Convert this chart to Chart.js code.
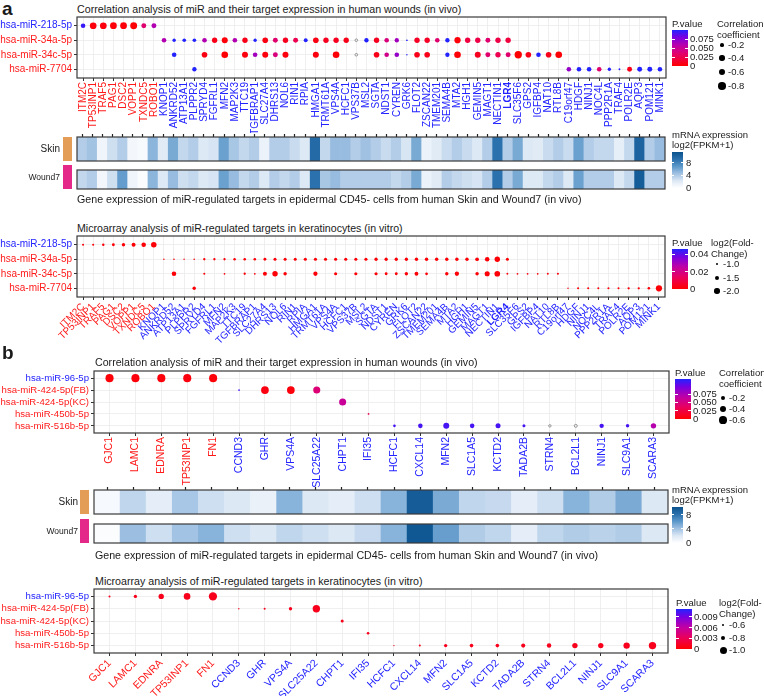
<!DOCTYPE html>
<html>
<head>
<meta charset="utf-8">
<script src="https://cdn.jsdelivr.net/npm/chart.js@4.4.1/dist/chart.umd.min.js"></script>
<style>
  body { margin: 0; background: #fff; font-family: "Liberation Sans", Arial, sans-serif; }
  #wrap { position: relative; width: 764px; height: 696px; overflow: hidden; }
  canvas { position: absolute; left: 0; }
</style>
</head>
<body>
<div id="wrap"></div>
<script>
// ---------- data ----------
const genesA = ['ITM2C','TP53INP1','TRAF5','PAG1','DSC2','VOPP1','TXNDC5','ROBO1','KNOP1','ANKRD52','ATP13A1','PLPPR2','SPRYD4','FGFRL1','MFN2','MAP2K3','TTC19','TGFBRAP1','SLC27A4','DHRS13','NOL6','RIN1','RPIA','HMGA1','TRMT61A','VPS4A','HCFC1','VPS37B','MSL2','SGTA','NDST1','CYREN','GRK6','FLOT2','ZSCAN22','TMEM201','SEMA4B','MTA2','HGH1','GEMIN5','MAGT1','NECTIN1','LGR4','SLC35F6','GPS2','IGFBP4','NAT10','RTL8B','C19orf47','HDGF','NINJ1','NOC4L','PPP2R1A','TRAF4','POLR2E','AQP3','POM121','MINK1'];
const redGenesA = ['ITM2C','TP53INP1','TRAF5','PAG1','DSC2','VOPP1','TXNDC5','ROBO1'];
const mirsA = ['hsa-miR-218-5p','hsa-miR-34a-5p','hsa-miR-34c-5p','hsa-miR-7704'];

const genesB = ['GJC1','LAMC1','EDNRA','TP53INP1','FN1','CCND3','GHR','VPS4A','SLC25A22','CHPT1','IFI35','HCFC1','CXCL14','MFN2','SLC1A5','KCTD2','TADA2B','STRN4','BCL2L1','NINJ1','SLC9A1','SCARA3'];
const redGenesB = ['GJC1','LAMC1','EDNRA','TP53INP1','FN1'];
const mirsB = ['hsa-miR-96-5p','hsa-miR-424-5p(FB)','hsa-miR-424-5p(KC)','hsa-miR-450b-5p','hsa-miR-516b-5p'];
const blueMirs = ['hsa-miR-218-5p','hsa-miR-96-5p'];

// correlation analysis, panel a: [gene, correlation coefficient, P.value]
const corrA_218 = [['ITM2C',-0.3,0.095],['TP53INP1',-0.63,0.004],['TRAF5',-0.63,0.004],['PAG1',-0.65,0.003],['DSC2',-0.65,0.003],['VOPP1',-0.68,0.002],['TXNDC5',-0.35,0.035],['ROBO1',-0.35,0.06]];
const corrA_34a = [['KNOP1',-0.3,0.06],['ANKRD52',-0.16,0.1],['ATP13A1',-0.19,0.1],['PLPPR2',-0.19,0.1],['SPRYD4',-0.3,0.06],['FGFRL1',-0.41,0.008],['MFN2',-0.51,0.003],['MAP2K3',-0.3,0.06],['TTC19',-0.41,0.008],['TGFBRAP1',-0.16,0.1],['SLC27A4',-0.45,0.006],['DHRS13',-0.35,0.035],['NOL6',-0.41,0.01],['RIN1',-0.35,0.025],['RPIA',-0.22,0.1],['HMGA1',-0.45,0.006],['TRMT61A',-0.41,0.01],['VPS4A',-0.41,0.01],['HCFC1',-0.41,0.008],['VPS37B',-0.1,null],['MSL2',-0.27,0.1],['SGTA',-0.41,0.01],['NDST1',-0.3,0.04],['CYREN',-0.27,0.065],['GRK6',-0.04,0.1],['FLOT2',-0.41,0.012],['ZSCAN22',-0.41,0.012],['TMEM201',-0.3,0.035],['SEMA4B',-0.27,0.1],['MTA2',-0.55,0.003],['HGH1',-0.41,0.02],['GEMIN5',-0.41,0.022],['MAGT1',-0.35,0.035],['NECTIN1',-0.41,0.022],['LGR4',-0.41,0.02]];
const corrA_34c = [['ANKRD52',-0.3,0.1],['SPRYD4',-0.45,0.006],['MFN2',-0.63,0.001],['TTC19',-0.51,0.004],['TGFBRAP1',-0.3,0.065],['SLC27A4',-0.51,0.004],['DHRS13',-0.35,0.04],['NOL6',-0.51,0.004],['HMGA1',-0.51,0.004],['VPS4A',-0.63,0.002],['VPS37B',-0.1,null],['SGTA',-0.45,0.008],['NDST1',-0.3,0.045],['CYREN',-0.3,0.07],['GRK6',-0.03,0.1],['FLOT2',-0.45,0.008],['ZSCAN22',-0.45,0.008],['SEMA4B',-0.27,0.1],['MTA2',-0.63,0.001],['GEMIN5',-0.51,0.01],['MAGT1',-0.35,0.035],['NECTIN1',-0.41,0.025],['LGR4',-0.35,0.035],['SLC35F6',-0.76,0.001],['GPS2',-0.45,0.008],['IGFBP4',-0.3,0.1],['NAT10',-0.45,0.008],['RTL8B',-0.63,0.002]];
const corrA_7704 = [['PLPPR2',-0.27,0.1],['C19orf47',-0.3,0.07],['HDGF',-0.3,0.1],['NINJ1',-0.3,0.1],['NOC4L',-0.3,0.035],['PPP2R1A',-0.16,0.1],['TRAF4',-0.05,0.1],['POLR2E',-0.35,0.008],['AQP3',-0.35,0.1],['POM121',-0.35,0.1],['MINK1',-0.3,0.1]];

// mRNA expression log2(FPKM+1), panel a
const skinA  = [3.8,4.4,1,2.8,3.8,0.8,0.5,5.2,2,5.8,3.2,3.8,2.2,2.5,6.3,4.2,3.2,3.8,1.3,3.8,3.8,3,2.2,9.5,3.2,4.8,4.8,3.8,4.5,3.8,3,3.8,2.4,5.8,1.3,2,3,3.8,3,2.2,3.8,9,3.8,5.8,2.2,2,3,3.8,3,6.3,3.8,3.2,3.2,1.6,3.2,10,3.8,4.8];
const woundA = [3.2,3.8,0.8,2.8,6.5,1,0.3,5.2,2.2,4.8,2.8,3.2,2.2,2.5,6.3,4.8,3.2,3.8,2.2,3.8,3.2,3.8,2.2,9,4.2,4.8,3.8,3.8,3.8,3.8,3.8,3.2,3.8,5.8,1.3,2,3.8,3.2,2.8,2.5,3.8,9,3.8,5.8,2.2,2.2,3.2,3.8,2.2,6.3,3.8,3.8,3.8,2.2,3.2,10.5,3.8,3.8];

// microarray, panel a: [gene, log2(Fold-Change), P.value]
const fcA_218 = [['ITM2C',-0.8,0.001],['TP53INP1',-0.8,0.001],['TRAF5',-0.95,0.001],['PAG1',-1.1,0.001],['DSC2',-1.3,0.001],['VOPP1',-1.5,0.001],['TXNDC5',-1.7,0.001],['ROBO1',-2.05,0.001]];
const fcA_34a = [['KNOP1',-0.6,0.002],['ANKRD52',-0.65,0.002],['ATP13A1',-0.6,0.002],['PLPPR2',-0.65,0.002],['SPRYD4',-0.9,0.001],['FGFRL1',-0.9,0.001],['MFN2',-0.9,0.001],['MAP2K3',-0.95,0.001],['TTC19',-1.0,0.001],['TGFBRAP1',-1.0,0.001],['SLC27A4',-1.1,0.001],['DHRS13',-1.15,0.001],['NOL6',-1.15,0.001],['RIN1',-1.15,0.001],['RPIA',-1.2,0.001],['HMGA1',-1.2,0.001],['TRMT61A',-1.2,0.001],['VPS4A',-1.2,0.001],['HCFC1',-1.2,0.001],['VPS37B',-1.2,0.001],['MSL2',-1.2,0.001],['SGTA',-1.25,0.001],['NDST1',-1.25,0.001],['CYREN',-1.25,0.001],['GRK6',-1.25,0.001],['FLOT2',-1.3,0.001],['ZSCAN22',-1.3,0.001],['TMEM201',-1.3,0.001],['SEMA4B',-1.3,0.001],['MTA2',-1.3,0.001],['HGH1',-1.3,0.001],['GEMIN5',-1.4,0.001],['MAGT1',-1.7,0.001],['NECTIN1',-2.0,0.001],['LGR4',-1.15,0.001]];
const fcA_34c = [['ANKRD52',-1.7,0.001],['SPRYD4',-0.8,0.001],['MFN2',-0.7,0.002],['TTC19',-0.9,0.001],['TGFBRAP1',-0.7,0.002],['SLC27A4',-1.5,0.001],['DHRS13',-2.0,0.001],['NOL6',-1.3,0.001],['HMGA1',-1.6,0.001],['VPS4A',-1.2,0.001],['VPS37B',-1.2,0.001],['SGTA',-1.2,0.001],['NDST1',-1.1,0.001],['CYREN',-1.1,0.001],['GRK6',-1.3,0.001],['FLOT2',-1.45,0.001],['ZSCAN22',-1.05,0.001],['SEMA4B',-1.3,0.001],['MTA2',-1.6,0.001],['GEMIN5',-1.3,0.001],['MAGT1',-1.9,0.001],['NECTIN1',-2.1,0.001],['LGR4',-0.75,0.002],['SLC35F6',-0.7,0.002],['GPS2',-0.7,0.002],['IGFBP4',-0.7,0.002],['NAT10',-0.75,0.002],['RTL8B',-0.8,0.002]];
const fcA_7704 = [['PLPPR2',-1.3,0.001],['C19orf47',-0.6,0.002],['HDGF',-0.8,0.001],['NINJ1',-0.8,0.001],['NOC4L',-0.8,0.001],['PPP2R1A',-0.8,0.001],['TRAF4',-0.8,0.001],['POLR2E',-0.9,0.001],['AQP3',-0.9,0.001],['POM121',-1.0,0.001],['MINK1',-2.3,0.001]];

// correlation analysis, panel b
const corrB_96   = [['GJC1',-0.65,0.003],['LAMC1',-0.65,0.004],['EDNRA',-0.65,0.004],['TP53INP1',-0.65,0.005],['FN1',-0.65,0.003]];
const corrB_FB   = [['CCND3',-0.03,0.11],['GHR',-0.6,0.006],['VPS4A',-0.6,0.004],['SLC25A22',-0.5,0.045]];
const corrB_KC   = [['CHPT1',-0.5,0.06]];
const corrB_450b = [['IFI35',-0.03,0.03]];
const corrB_516b = [['HCFC1',-0.07,0.11],['CXCL14',-0.21,0.11],['MFN2',-0.36,0.11],['SLC1A5',-0.21,0.11],['KCTD2',-0.25,0.11],['TADA2B',-0.09,0.11],['STRN4',-0.06,null],['BCL2L1',-0.09,null],['NINJ1',-0.19,0.11],['SLC9A1',-0.12,0.11],['SCARA3',-0.29,0.07]];

// mRNA expression, panel b
const skinB  = [0.5,3,1.5,3.8,2.5,2,1.2,4.8,2,1.5,2.5,4.8,9.5,5.2,3,2.8,1.5,2.5,4.8,3.5,5.2,2];
const woundB = [0.3,4.2,2.5,4,4.8,2.5,2,3,2.5,2,2.8,4.8,9.8,5.8,3.5,3,1.5,3,3.5,3.2,3.5,2];

// microarray, panel b
const fcB_96   = [['GJC1',-0.6,0.001],['LAMC1',-0.71,0.001],['EDNRA',-0.87,0.001],['TP53INP1',-0.97,0.001],['FN1',-1.1,0.001]];
const fcB_FB   = [['CCND3',-0.55,0.001],['GHR',-0.6,0.001],['VPS4A',-0.71,0.001],['SLC25A22',-1.03,0.001]];
const fcB_KC   = [['CHPT1',-0.68,0.001]];
const fcB_450b = [['IFI35',-0.65,0.001]];
const fcB_516b = [['HCFC1',-0.55,0.001],['CXCL14',-0.6,0.001],['MFN2',-0.71,0.001],['SLC1A5',-0.73,0.001],['KCTD2',-0.73,0.001],['TADA2B',-0.77,0.001],['STRN4',-0.8,0.001],['BCL2L1',-0.87,0.001],['NINJ1',-0.87,0.001],['SLC9A1',-0.95,0.001],['SCARA3',-1.03,0.001]];

// ---------- helpers ----------
const W = 764;
const wrap = document.getElementById('wrap');
const FONT = '"Liberation Sans", Arial, sans-serif';
Chart.defaults.font.family = FONT;
Chart.defaults.color = '#222';
const RED = '#ff1a1a', BLUE = '#2323ff';
const LEG = 9.5;

const P_STOPS = [[0,[255,0,0]],[0.3,[232,0,95]],[0.55,[192,0,165]],[0.8,[120,0,225]],[1,[35,35,255]]];
const H_STOPS = [[0,[255,255,255]],[0.2,[220,232,245]],[0.4,[160,193,226]],[0.6,[92,152,202]],[0.8,[42,112,172]],[1,[10,82,142]]];

function ramp(stops, t) {
  t = Math.max(0, Math.min(1, t));
  for (let i = 1; i < stops.length; i++) {
    if (t <= stops[i][0]) {
      const [t0, c0] = stops[i - 1], [t1, c1] = stops[i];
      const f = (t - t0) / (t1 - t0);
      return 'rgb(' + c0.map((v, k) => Math.round(v + (c1[k] - v) * f)).join(',') + ')';
    }
  }
  return 'rgb(' + stops[stops.length - 1][1].join(',') + ')';
}
function cssRamp(stops) {
  return 'linear-gradient(to top,' + stops.map(s => `rgb(${s[1].join(',')}) ${s[0] * 100}%`).join(',') + ')';
}

const meas = document.createElement('canvas').getContext('2d');
function text(x, y, s, size, opt = {}) {
  const d = document.createElement('div');
  d.textContent = s;
  d.style.cssText = `position:absolute;left:${x}px;top:${y}px;font-size:${size}px;line-height:1;` +
    `white-space:nowrap;color:${opt.color || '#1a1a1a'};font-weight:${opt.bold ? 'bold' : 'normal'};` +
    `transform:translate(${opt.right ? '-100%' : '0'},-50%);`;
  wrap.appendChild(d);
}
// title text sized so that it spans the given width
function fitText(x, y, s, width) {
  meas.font = '20px ' + FONT;
  const size = 20 * width / meas.measureText(s).width;
  text(x, y, s, size);
}
function rect(x, y, w, h, bg) {
  const d = document.createElement('div');
  d.style.cssText = `position:absolute;left:${x}px;top:${y}px;width:${w}px;height:${h}px;background:${bg};`;
  wrap.appendChild(d);
}
function dot(cx, cy, r) {
  const d = document.createElement('div');
  d.style.cssText = `position:absolute;left:${cx - r}px;top:${cy - r}px;width:${2 * r}px;height:${2 * r}px;border-radius:50%;background:#000;`;
  wrap.appendChild(d);
}
function canvasAt(top, h) {
  const c = document.createElement('canvas');
  c.width = W; c.height = h;
  c.style.top = top + 'px';
  c.style.width = W + 'px'; c.style.height = h + 'px';
  wrap.appendChild(c);
  return c.getContext('2d');
}
// tick value from a scriptable tick context
const tv = c => (c.tick ? c.tick.value : c.index);

const frame = {
  id: 'frame',
  afterDraw(chart) {
    const a = chart.chartArea, ctx = chart.ctx;
    ctx.save();
    ctx.strokeStyle = '#3a3a3a';
    ctx.lineWidth = 1.2;
    ctx.strokeRect(a.left, a.top, a.right - a.left, a.bottom - a.top);
    ctx.restore();
  }
};

// dot plot (correlation / microarray)
function dotChart(o) {
  const ctx = canvasAt(o.top, o.h);
  const datasets = o.rows.map((row, ri) => ({
    data: row.map(d => ({ x: o.genes.indexOf(d[0]), y: ri })),
    pointRadius: row.map(d => o.rad(d[1])),
    pointBackgroundColor: row.map(d => d[2] == null ? 'rgba(0,0,0,0)' : ramp(P_STOPS, d[2] / o.pmax)),
    pointBorderColor: row.map(d => d[2] == null ? '#8c8c8c' : ramp(P_STOPS, d[2] / o.pmax)),
    pointBorderWidth: row.map(d => d[2] == null ? 0.9 : 0)
  }));
  new Chart(ctx, {
    type: 'scatter',
    data: { datasets },
    options: {
      responsive: false, animation: false, events: [],
      layout: { padding: { left: 0, right: W - o.box.r, top: o.box.t - o.top, bottom: 0 } },
      plugins: { legend: { display: false }, tooltip: { enabled: false } },
      scales: {
        x: {
          type: 'linear', bounds: 'data', min: -0.6, max: o.genes.length - 0.4,
          afterBuildTicks: s => { s.ticks = o.genes.map((g, i) => ({ value: i })); },
          afterFit: s => { s.height = o.xh; },
          border: { display: false },
          grid: { color: '#ebebeb', lineWidth: 0.8, tickColor: '#333', tickLength: 3, tickWidth: 1 },
          ticks: {
            autoSkip: false, minRotation: o.rot, maxRotation: o.rot, padding: 1,
            callback: v => o.genes[v],
            color: c => o.redGenes.includes(o.genes[tv(c)]) ? RED : BLUE,
            font: c => ({ size: o.fs, weight: o.genes[tv(c)] === 'LGR4' ? 'bold' : 'normal' })
          }
        },
        y: {
          type: 'linear', bounds: 'data', reverse: true, min: -0.6, max: o.mirs.length - 0.4,
          afterBuildTicks: s => { s.ticks = o.mirs.map((m, i) => ({ value: i })); },
          afterFit: s => { s.width = o.box.l; },
          border: { display: false },
          grid: { color: '#ebebeb', lineWidth: 0.8, tickColor: '#333', tickLength: 3, tickWidth: 1 },
          ticks: {
            autoSkip: false, padding: 2,
            callback: v => o.mirs[v],
            color: c => blueMirs.includes(o.mirs[tv(c)]) ? BLUE : RED,
            font: { size: o.fsY }
          }
        }
      }
    },
    plugins: [frame]
  });
}

// one heatmap strip (Skin or Wound7)
function heatStrip(o) {
  const ctx = canvasAt(o.top, o.h);
  new Chart(ctx, {
    type: 'bar',
    data: {
      labels: o.genes,
      datasets: [{
        data: o.values.map(() => 1),  // every cell spans the full strip height
        backgroundColor: o.values.map(v => ramp(H_STOPS, v / o.vmax)),
        borderWidth: 0, barPercentage: 1, categoryPercentage: 1
      }]
    },
    options: {
      responsive: false, animation: false, events: [],
      layout: { padding: { left: o.box.l, right: W - o.box.r, top: o.ticks ? 0 : o.box.t - o.top, bottom: o.top + o.h - o.box.b } },
      plugins: { legend: { display: false }, tooltip: { enabled: false } },
      scales: {
        x: {
          display: !!o.ticks, position: 'top',
          afterFit: s => { s.height = o.box.t - o.top; },
          border: { display: false },
          grid: { offset: false, drawOnChartArea: false, tickLength: 3, tickColor: '#222', tickWidth: 1.2 },
          ticks: { display: false }
        },
        y: { display: false, min: 0, max: 1 }
      }
    },
    plugins: [frame]
  });
}

// legends
function pLegend(x, y, title, ticks, pmax, barH, labX) {
  text(x, y, title, LEG);
  const top = y + 6;
  const g = document.createElement('div');
  g.style.cssText = `position:absolute;left:${x}px;top:${top}px;width:16px;height:${barH}px;background:${cssRamp(P_STOPS)};`;
  wrap.appendChild(g);
  ticks.forEach(t => {
    const ty = top + barH - (t[0] / pmax) * barH;
    rect(x, ty - 0.5, 3, 1, '#fff'); rect(x + 13, ty - 0.5, 3, 1, '#fff');
    text(labX, ty, t[1], LEG);
  });
}
function heatLegend(x, y, vmax, barH, ticks) {
  text(x, y, 'mRNA expression', LEG);
  text(x, y + 10, 'log2(FPKM+1)', LEG);
  const top = y + 17;
  const g = document.createElement('div');
  g.style.cssText = `position:absolute;left:${x}px;top:${top}px;width:11px;height:${barH}px;background:${cssRamp(H_STOPS)};`;
  wrap.appendChild(g);
  ticks.forEach(t => {
    const ty = top + barH - (t / vmax) * barH;
    rect(x, ty - 0.5, 2, 1, '#fff'); rect(x + 9, ty - 0.5, 2, 1, '#fff');
    text(x + 14, ty, String(t), LEG);
  });
}
function sizeLegend(x, y, lines, items, rad, dx, ys) {
  lines.forEach((l, i) => text(x, y + i * 10.5, l, LEG));
  items.forEach((v, i) => {
    dot(dx, ys[i], rad(v));
    text(dx + 6, ys[i], String(v.toFixed(1)), LEG);
  });
}

// ---------- panel a ----------
text(2, 8, 'a', 19, { bold: true });
fitText(77, 9, 'Correlation analysis of miR and their target expression in human wounds (in vivo)', 385);
const radCorrA = v => 4.2 * Math.sqrt(Math.abs(v));
dotChart({ top: 8, h: 70 + 55, box: { l: 77, r: 666, t: 17, b: 78 }, xh: 55, rot: 90, fs: 10, fsY: 10,
  genes: genesA, redGenes: redGenesA, mirs: mirsA, pmax: 0.1, rad: radCorrA,
  rows: [corrA_218, corrA_34a, corrA_34c, corrA_7704] });
pLegend(672, 24, 'P.value', [[0.075, '0.075'], [0.05, '0.050'], [0.025, '0.025'], [0, '0']], 0.1, 36, 690);
sizeLegend(717, 24, ['Correlation', 'coefficient'], [-0.2, -0.4, -0.6, -0.8], radCorrA, 722, [45, 58, 72, 86]);

heatStrip({ top: 130, h: 32, box: { l: 77, r: 665, t: 137, b: 161 }, genes: genesA, values: skinA, vmax: 11.3, ticks: true });
heatStrip({ top: 160, h: 34, box: { l: 77, r: 665, t: 165, b: 189 }, genes: genesA, values: woundA, vmax: 11.3, ticks: false });
rect(63, 137, 9, 24, '#e39d57');
rect(63, 165, 9, 24, '#e4288a');
text(60, 149, 'Skin', 10, { right: true });
text(60, 177, 'Wound7', 8.5, { right: true });
heatLegend(672, 135, 11.3, 36, [8, 4, 0]);
fitText(77, 199, 'Gene expression of miR-regulated targets in epidermal CD45- cells from human Skin and Wound7 (in vivo)', 505);

fitText(77, 228, 'Microarray analysis of miR-regulated targets in keratinocytes (in vitro)', 326);
const radFcA = v => Math.max(0.5, 1.3 + (Math.abs(v) - 1) * 1.4);
dotChart({ top: 227, h: 70 + 50, box: { l: 77, r: 665, t: 236, b: 297 }, xh: 50, rot: 45, fs: 10, fsY: 10,
  genes: genesA, redGenes: redGenesA, mirs: mirsA, pmax: 0.046, rad: radFcA,
  rows: [fcA_218, fcA_34a, fcA_34c, fcA_7704] });
pLegend(672, 243, 'P.value', [[0.04, '0.04'], [0.02, '0.02'], [0, '0']], 0.046, 40, 690);
sizeLegend(711, 243, ['log2(Fold-', 'Change)'], [-1.0, -1.5, -2.0], radFcA, 717, [264, 278, 291]);

// ---------- panel b ----------
text(2, 352, 'b', 19, { bold: true });
fitText(95, 362, 'Correlation analysis of miR and their target expression in human wounds (in vivo)', 383);
const radCorrB = v => 5 * Math.sqrt(Math.abs(v));
dotChart({ top: 362, h: 71 + 56, box: { l: 94, r: 669, t: 371, b: 433 }, xh: 56, rot: 90, fs: 10.5, fsY: 9.6,
  genes: genesB, redGenes: redGenesB, mirs: mirsB, pmax: 0.12, rad: radCorrB,
  rows: [corrB_96, corrB_FB, corrB_KC, corrB_450b, corrB_516b] });
pLegend(675, 373, 'P.value', [[0.075, '0.075'], [0.05, '0.050'], [0.025, '0.025'], [0, '0']], 0.12, 40, 693);
sizeLegend(719, 373, ['Correlation', 'coefficient'], [-0.2, -0.4, -0.6], radCorrB, 723, [398, 409, 420]);

heatStrip({ top: 483, h: 32, box: { l: 94, r: 668, t: 490, b: 514 }, genes: genesB, values: skinB, vmax: 10.2, ticks: true });
heatStrip({ top: 514, h: 34, box: { l: 94, r: 668, t: 519, b: 543 }, genes: genesB, values: woundB, vmax: 10.2, ticks: false });
rect(80, 490, 9, 24, '#e39d57');
rect(80, 519, 9, 24, '#e4288a');
text(78, 502, 'Skin', 10, { right: true });
text(78, 531, 'Wound7', 8.5, { right: true });
heatLegend(672, 490, 10.2, 36, [8, 4, 0]);
fitText(95, 555, 'Gene expression of miR-regulated targets in epidermal CD45- cells from human Skin and Wound7 (in vivo)', 504);

fitText(95, 581, 'Microarray analysis of miR-regulated targets in keratinocytes (in vitro)', 328);
const radFcB = v => Math.max(0.5, 1 + (Math.abs(v) - 0.6) * 6.25);
dotChart({ top: 580, h: 73 + 43, box: { l: 94, r: 668, t: 589, b: 653 }, xh: 43, rot: 45, fs: 10.5, fsY: 9.6,
  genes: genesB, redGenes: redGenesB, mirs: mirsB, pmax: 0.0112, rad: radFcB,
  rows: [fcB_96, fcB_FB, fcB_KC, fcB_450b, fcB_516b] });
pLegend(676, 603, 'P.value', [[0.009, '0.009'], [0.006, '0.006'], [0.003, '0.003'], [0, '0']], 0.0112, 40, 694);
sizeLegend(719, 603, ['log2(Fold-', 'Change)'], [-0.6, -0.8, -1.0], radFcB, 723, [625, 638, 650]);
</script>
</body>
</html>
